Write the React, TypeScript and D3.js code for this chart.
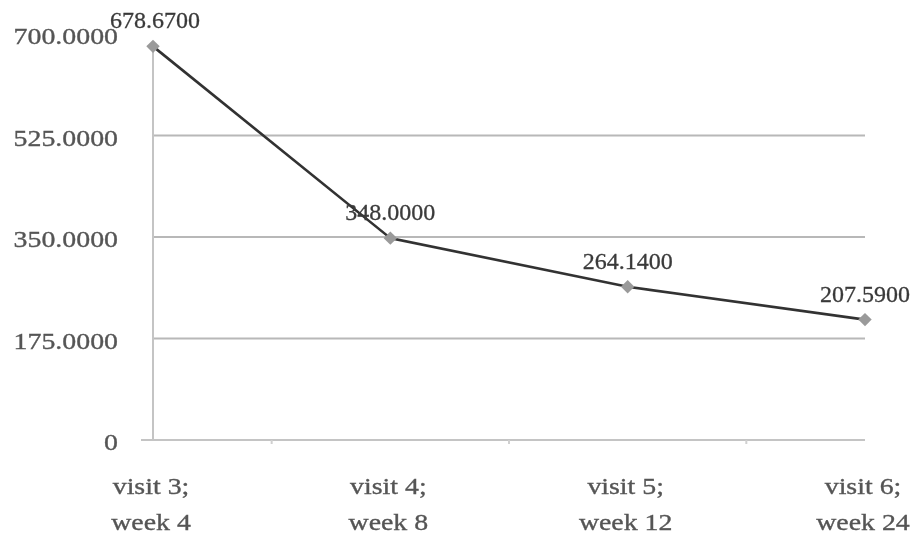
import React from "react";
import * as d3 from "d3";

const categories = [["visit 3;", "week 4"], ["visit 4;", "week 8"], ["visit 5;", "week 12"], ["visit 6;", "week 24"]];
const values = [678.67, 348.0, 264.14, 207.59];
const yTicks = [0, 175, 350, 525, 700];

export default function App() {
  const W = 918, H = 536;
  const left = 153, right = 865, top = 34, bottom = 440;
  const x = d3.scalePoint<number>().domain(d3.range(values.length)).range([left, right]);
  const y = d3.scaleLinear().domain([0, 700]).range([bottom, top]);
  const line = d3.line<number>().x((_, i) => x(i)!).y(d => y(d));
  const fmt = (v: number) => (v === 0 ? "0" : v.toFixed(4));
  const mids = d3.range(values.length - 1).map(i => (x(i)! + x(i + 1)!) / 2);
  const sx = 1.16;
  return (
    <svg width={W} height={H} style={{ position: "absolute", left: 0, top: 0, background: "#fff" }}
      fontFamily="'Liberation Serif', 'Times New Roman', serif">
      <defs>
        <filter id="blur"><feGaussianBlur stdDeviation="0.75" /></filter>
      </defs>
      <rect width={W} height={H} fill="#fff" />
      <g filter="url(#blur)">
        {yTicks.filter(t => t > 0 && t < 700).map(t => (
          <line key={t} x1={left} x2={right} y1={y(t)} y2={y(t)} stroke="#b8b8b8" strokeWidth={2} />
        ))}
        <line x1={left} x2={left} y1={y(700) + 8} y2={bottom} stroke="#c4c4c4" strokeWidth={2} />
        <line x1={left - 12} x2={right} y1={bottom} y2={bottom} stroke="#c4c4c4" strokeWidth={2} />
        {mids.map((m, i) => (
          <line key={i} x1={m} x2={m} y1={bottom} y2={bottom + 4} stroke="#d0d0d0" strokeWidth={2} />
        ))}
        {yTicks.map(t => (
          <text key={t} transform={`translate(118,${y(t) + 10}) scale(${sx},1)`} textAnchor="end" fontSize={24}
            fill="#555" stroke="#555" strokeWidth={0.35}>{fmt(t)}</text>
        ))}
        {categories.map((c, i) => (
          <g key={i} fill="#555" stroke="#555" strokeWidth={0.35}>
            <text transform={`translate(${x(i)! - 2},494) scale(${sx},1)`} textAnchor="middle" fontSize={24}>{c[0]}</text>
            <text transform={`translate(${x(i)! - 2},530) scale(${sx},1)`} textAnchor="middle" fontSize={24}>{c[1]}</text>
          </g>
        ))}
        <path d={line(values) || ""} fill="none" stroke="#333" strokeWidth={2.6} />
        {values.map((v, i) => (
          <path key={i} d={d3.symbol(d3.symbolSquare, 90)() || ""}
            transform={`translate(${x(i)},${y(v)}) rotate(45)`} fill="#9a9a9a" />
        ))}
        {values.map((v, i) => (
          <text key={i} x={x(i)! + (i === 0 ? 2 : 0)} y={y(v) - 18} textAnchor="middle" fontSize={24}
            fill="#3a3a3a" stroke="#3a3a3a" strokeWidth={0.3}>{v.toFixed(4)}</text>
        ))}
      </g>
    </svg>
  );
}
